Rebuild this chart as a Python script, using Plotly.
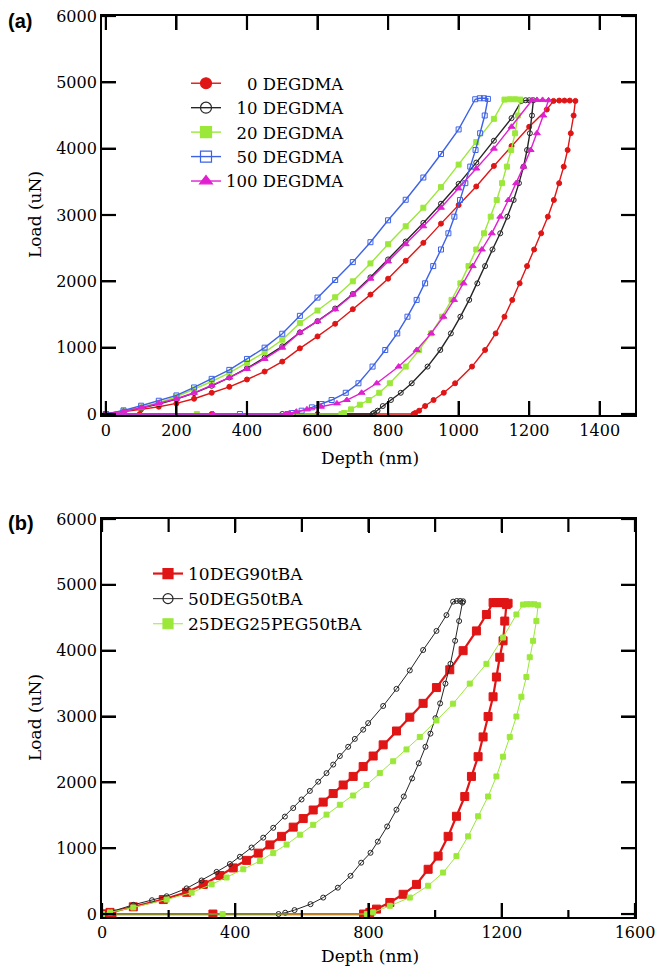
import plotly.graph_objects as go

# ---------------- Panel (a) data: depth (nm) / load (uN) ----------------
DEG0_DEPTH = [0, 50, 100, 150, 200, 250, 300, 350, 400, 450, 500, 550, 600, 650, 700, 750, 800, 850, 900, 950, 1000, 1050, 1100, 1150, 1200, 1250, 1269,
              1285, 1300, 1315, 1331,
              1326, 1318, 1309, 1298, 1285, 1270, 1253, 1234, 1214, 1194, 1173, 1152, 1130, 1105, 1075, 1038, 990, 958, 929, 905, 888, 877, 872,
              600, 300, 96, 0]
DEG0_LOAD = [0, 30, 70, 110, 160, 230, 320, 410, 520, 640, 790, 990, 1170, 1360, 1580, 1800, 2040, 2310, 2580, 2870, 3150, 3430, 3740, 4040, 4330, 4590, 4720,
             4725, 4725, 4725, 4720,
             4500, 4232, 3980, 3729, 3480, 3226, 2975, 2724, 2480, 2230, 1970, 1720, 1467, 1215, 965, 715, 463, 320, 211, 120, 50, 15, 0,
             0, 0, 0, 0]

DEG10_DEPTH = [0, 50, 100, 150, 200, 250, 300, 350, 400, 450, 500, 550, 600, 650, 700, 750, 800, 850, 900, 950, 1000, 1050, 1100, 1150, 1178,
               1190, 1200, 1212,
               1208, 1202, 1194, 1184, 1171, 1156, 1138, 1118, 1096, 1075, 1053, 1030, 1005, 978, 948, 912, 867, 836, 808, 785, 770, 760, 756,
               500, 0]
DEG10_LOAD = [0, 40, 90, 150, 225, 315, 425, 550, 690, 850, 1020, 1230, 1400, 1590, 1810, 2060, 2330, 2600, 2880, 3170, 3470, 3790, 4120, 4460, 4720,
              4730, 4730, 4730,
              4500, 4232, 3980, 3729, 3480, 3226, 2975, 2724, 2480, 2230, 1970, 1720, 1467, 1215, 965, 715, 463, 320, 211, 120, 50, 15, 0,
              0, 0]

DEG20_DEPTH = [0, 50, 100, 150, 200, 250, 300, 350, 400, 450, 500, 550, 600, 650, 700, 750, 800, 850, 900, 950, 1000, 1050, 1100, 1130,
               1145, 1160, 1175,
               1168, 1160, 1149, 1137, 1123, 1108, 1091, 1072, 1050, 1028, 1005, 980, 953, 922, 888, 850, 805, 775, 745, 720, 695, 675, 668,
               258, 0]
DEG20_LOAD = [0, 40, 100, 170, 260, 370, 490, 620, 770, 930, 1120, 1370, 1560, 1760, 2000, 2270, 2560, 2830, 3110, 3420, 3760, 4100, 4450, 4740,
              4745, 4745, 4740,
              4500, 4232, 3980, 3729, 3480, 3226, 2975, 2724, 2480, 2230, 1970, 1720, 1467, 1215, 965, 715, 463, 320, 211, 140, 70, 15, 0,
              0, 0]

DEG50_DEPTH = [0, 50, 100, 150, 200, 250, 300, 350, 400, 450, 500, 550, 600, 650, 700, 750, 800, 850, 900, 950, 1000, 1047,
               1060, 1072, 1083,
               1074, 1061, 1048, 1033, 1019, 1004, 988, 971, 950, 928, 905, 881, 855, 826, 792, 756, 716, 680, 640, 612, 584, 555, 530, 515,
               380, 0]
DEG50_LOAD = [0, 55, 125, 200, 280, 400, 530, 665, 830, 1000, 1210, 1480, 1755, 2020, 2290, 2590, 2920, 3230, 3565, 3920, 4290, 4745,
              4760, 4760, 4750,
              4500, 4232, 3980, 3729, 3480, 3226, 2975, 2724, 2480, 2230, 1970, 1720, 1467, 1215, 965, 715, 463, 320, 211, 150, 100, 50, 15, 0,
              0, 0]

DEG100_DEPTH = [0, 50, 100, 150, 200, 250, 300, 350, 400, 450, 500, 550, 600, 650, 700, 750, 800, 850, 900, 950, 1000, 1050, 1100, 1150, 1208,
                1222, 1238, 1255,
                1240, 1222, 1204, 1184, 1163, 1141, 1118, 1094, 1066, 1040, 1014, 987, 957, 922, 881, 830, 768, 725, 683, 655, 610, 570, 540, 520, 510,
                304, 0]
DEG100_LOAD = [0, 40, 95, 160, 230, 320, 430, 550, 680, 830, 1000, 1230, 1400, 1580, 1800, 2040, 2300, 2560, 2830, 3110, 3400, 3700, 4000, 4330, 4730,
               4735, 4735, 4730,
               4500, 4232, 3980, 3729, 3480, 3226, 2975, 2724, 2480, 2230, 1970, 1720, 1467, 1215, 965, 715, 463, 320, 211, 160, 110, 70, 35, 10, 0,
               0, 0]

# ---------------- Panel (b) data ----------------
S10DEG90_DEPTH = [0, 24, 94, 184, 254, 304, 354, 394, 434, 469, 504, 539, 574, 604, 634, 664, 694, 724, 754, 784, 814, 844, 884, 924, 964, 1004, 1044, 1084, 1124, 1154, 1174,
                  1185, 1197, 1208, 1219,
                  1214, 1209, 1204, 1194, 1184, 1174, 1159, 1144, 1129, 1109, 1089, 1064, 1039, 1009, 979, 944, 904, 864, 824, 804, 785,
                  333, 30, 0]
S10DEG90_LOAD = [0, 25, 110, 220, 330, 450, 585, 700, 815, 925, 1050, 1180, 1320, 1450, 1580, 1700, 1830, 1960, 2090, 2240, 2400, 2570, 2780, 2990, 3200, 3440, 3710, 4000, 4300, 4550, 4730,
                 4730, 4730, 4730, 4720,
                 4700, 4450, 4150, 3900, 3600, 3300, 3000, 2690, 2390, 2090, 1785, 1485, 1180, 880, 680, 450, 300, 175, 75, 25, 0,
                 0, 0, 0]

S50DEG50_DEPTH = [0, 24, 94, 150, 194, 254, 299, 344, 384, 414, 449, 484, 514, 549, 574, 599, 624, 649, 674, 694, 714, 739, 759, 784, 799, 844, 884, 924, 964, 1004, 1034, 1054,
                  1065, 1075, 1084,
                  1082, 1072, 1060, 1046, 1031, 1015, 1001, 986, 971, 951, 931, 906, 884, 856, 828, 806, 778, 746, 708, 664, 626, 578, 550, 530,
                  0]
S50DEG50_LOAD = [0, 30, 140, 210, 270, 390, 510, 640, 760, 870, 1010, 1160, 1310, 1480, 1610, 1740, 1870, 2010, 2140, 2270, 2400, 2540, 2660, 2800, 2900, 3160, 3420, 3700, 4010, 4300, 4540, 4745,
                 4755, 4755, 4750,
                 4730, 4450, 4150, 3800, 3500, 3200, 2975, 2740, 2540, 2290, 2060, 1785, 1585, 1330, 1100, 930, 780, 580, 400, 250, 150, 60, 20, 0,
                 0]

S25DEG25PEG50_DEPTH = [0, 24, 94, 194, 269, 329, 374, 424, 474, 514, 554, 594, 634, 674, 714, 754, 794, 834, 874, 914, 954, 1004, 1054, 1104, 1154, 1204, 1244, 1264,
                       1275, 1286, 1298, 1309,
                       1304, 1294, 1284, 1274, 1259, 1244, 1224, 1204, 1184, 1159, 1129, 1099, 1064, 1024, 979, 924, 864, 814, 795,
                       362, 0]
S25DEG25PEG50_LOAD = [0, 25, 100, 220, 325, 450, 555, 680, 805, 925, 1055, 1205, 1355, 1510, 1660, 1800, 1960, 2140, 2320, 2500, 2690, 2940, 3195, 3500, 3800, 4200, 4550, 4700,
                      4705, 4705, 4705, 4690,
                      4450, 4150, 3900, 3600, 3300, 3000, 2690, 2390, 2090, 1785, 1485, 1180, 880, 630, 430, 250, 125, 25, 0,
                      0, 0]

# ---------------- labels / ticks ----------------
LEGEND_A = ["\u2007\u20070 DEGDMA", "\u200710 DEGDMA", "\u200720 DEGDMA", "\u200750 DEGDMA", "100 DEGDMA"]
LEGEND_B = ["10DEG90tBA", "50DEG50tBA", "25DEG25PEG50tBA"]
X_TICKS_A = [0, 200, 400, 600, 800, 1000, 1200, 1400]
X_TICKS_B = [0, 400, 800, 1200, 1600]
X_MINOR_B = [200, 600, 1000, 1400]
Y_TICKS = [0, 1000, 2000, 3000, 4000, 5000, 6000]

RED = "#e01515"
BLACK = "#262626"
GREEN = "#9be83a"
BLUE = "#3d62e6"
MAGENTA = "#e020d0"

SERIF = "DejaVu Serif"
TXT = "#000000"

fig = go.Figure()

series_a = [
    (DEG0_DEPTH, DEG0_LOAD, LEGEND_A[0], RED, "circle", 5),
    (DEG10_DEPTH, DEG10_LOAD, LEGEND_A[1], BLACK, "circle-open", 5),
    (DEG20_DEPTH, DEG20_LOAD, LEGEND_A[2], GREEN, "square", 5),
    (DEG50_DEPTH, DEG50_LOAD, LEGEND_A[3], BLUE, "square-open", 5),
    (DEG100_DEPTH, DEG100_LOAD, LEGEND_A[4], MAGENTA, "triangle-up", 6),
]
for xs, ys, name, col, sym, sz in series_a:
    fig.add_trace(go.Scatter(x=xs, y=ys, mode="lines+markers", name=name, showlegend=False,
                             line=dict(color=col, width=1.4),
                             marker=dict(symbol=sym, size=sz, color=col, line=dict(color=col, width=1)),
                             xaxis="x", yaxis="y"))
for xs, ys, name, col, sym, sz in series_a:
    fig.add_trace(go.Scatter(x=[None], y=[None], mode="lines+markers", name=name, legend="legend",
                             line=dict(color=col, width=1.4),
                             marker=dict(symbol=sym, size=11, color=col, line=dict(color=col, width=1.2)),
                             xaxis="x", yaxis="y"))

series_b = [
    (S10DEG90_DEPTH, S10DEG90_LOAD, LEGEND_B[0], RED, "square", 8, 2.2),
    (S50DEG50_DEPTH, S50DEG50_LOAD, LEGEND_B[1], BLACK, "circle-open", 5, 1.0),
    (S25DEG25PEG50_DEPTH, S25DEG25PEG50_LOAD, LEGEND_B[2], GREEN, "square", 5, 1.0),
]
for xs, ys, name, col, sym, sz, lw in series_b:
    fig.add_trace(go.Scatter(x=xs, y=ys, mode="lines+markers", name=name, showlegend=False,
                             line=dict(color=col, width=lw),
                             marker=dict(symbol=sym, size=sz, color=col, line=dict(color=col, width=1)),
                             xaxis="x2", yaxis="y2"))
for xs, ys, name, col, sym, sz, lw in series_b:
    fig.add_trace(go.Scatter(x=[None], y=[None], mode="lines+markers", name=name, legend="legend2",
                             line=dict(color=col, width=lw),
                             marker=dict(symbol=sym, size=10, color=col, line=dict(color=col, width=1.2)),
                             xaxis="x2", yaxis="y2"))

W, H = 656, 977
PX_L, PX_R = 102, 635
A_TOP, A_BOT = 16, 415
B_TOP, B_BOT = 519, 917
xdom = [PX_L / W, PX_R / W]
ydom_a = [(H - A_BOT) / H, (H - A_TOP) / H]
ydom_b = [(H - B_BOT) / H, (H - B_TOP) / H]


def axis(**kw):
    d = dict(showline=True, linecolor="black", linewidth=1.8, mirror="allticks",
             ticks="inside", ticklen=14, tickwidth=2, tickcolor="#000000",
             showgrid=False, zeroline=False, tickmode="array", layer="above traces",
             tickfont=dict(family=SERIF, size=16, color=TXT))
    d.update(kw)
    return d


fig.update_layout(
    template="none",
    width=W, height=H,
    margin=dict(l=0, r=0, t=0, b=0),
    paper_bgcolor="white", plot_bgcolor="rgba(0,0,0,0)",
    xaxis=axis(domain=xdom, range=[-11, 1500], tickvals=X_TICKS_A, anchor="y"),
    yaxis=axis(domain=ydom_a, range=[-15, 6000], tickvals=Y_TICKS, anchor="x"),
    xaxis2=axis(domain=xdom, range=[0, 1600], tickvals=X_TICKS_B, anchor="y2"),
    yaxis2=axis(domain=ydom_b, range=[-45, 6000], tickvals=Y_TICKS, anchor="x2"),
    legend=dict(x=186 / W, y=1 - 66 / H, xanchor="left", yanchor="top",
                bgcolor="rgba(0,0,0,0)", borderwidth=0, tracegroupgap=0,
                font=dict(family=SERIF, size=16.5, color=TXT)),
    legend2=dict(x=148 / W, y=1 - 556 / H, xanchor="left", yanchor="top",
                 bgcolor="rgba(0,0,0,0)", borderwidth=0, tracegroupgap=0,
                 font=dict(family=SERIF, size=17, color=TXT)),
    showlegend=True,
)

# tick marks (inside, on all four sides) placed on the axes' own scales, paper refs for the short side
shapes = []
tick_line = dict(color="#000000", width=2.2)


def py(p):
    return 1 - p / H


def px(p):
    return p / W


def xticks(xref, top, bot, vals, len_bottom, len_top):
    for v in vals:
        shapes.append(dict(type="line", xref=xref, yref="paper", x0=v, x1=v,
                           y0=py(bot), y1=py(bot - len_bottom), line=tick_line, layer="above"))
        shapes.append(dict(type="line", xref=xref, yref="paper", x0=v, x1=v,
                           y0=py(top), y1=py(top + len_top), line=tick_line, layer="above"))


def yticks(yref, vals, length):
    for v in vals:
        shapes.append(dict(type="line", xref="paper", yref=yref, y0=v, y1=v,
                           x0=px(PX_L), x1=px(PX_L + length), line=tick_line, layer="above"))
        shapes.append(dict(type="line", xref="paper", yref=yref, y0=v, y1=v,
                           x0=px(PX_R), x1=px(PX_R - length), line=tick_line, layer="above"))


xticks("x", A_TOP, A_BOT, X_TICKS_A, 14, 14)
yticks("y", Y_TICKS, 14)
xticks("x2", B_TOP, B_BOT, X_TICKS_B, 14, 13)
xticks("x2", B_TOP, B_BOT, X_MINOR_B, 7, 13)
yticks("y2", Y_TICKS, 14)
fig.update_layout(shapes=shapes)

annots = [
    dict(text="<b>(a)</b>", x=6 / W, y=1 - 21 / H, xanchor="left", yanchor="middle",
         font=dict(family="Liberation Sans", size=20, color="black")),
    dict(text="<b>(b)</b>", x=6 / W, y=1 - 523 / H, xanchor="left", yanchor="middle",
         font=dict(family="Liberation Sans", size=20, color="black")),
    dict(text="Depth (nm)", x=370 / W, y=1 - 458 / H, xanchor="center", yanchor="middle",
         font=dict(family=SERIF, size=17, color=TXT)),
    dict(text="Depth (nm)", x=370 / W, y=1 - 956 / H, xanchor="center", yanchor="middle",
         font=dict(family=SERIF, size=17, color=TXT)),
    dict(text="Load (uN)", x=35 / W, y=1 - 215 / H, xanchor="center", yanchor="middle", textangle=-90,
         font=dict(family=SERIF, size=17, color=TXT)),
    dict(text="Load (uN)", x=35 / W, y=1 - 718 / H, xanchor="center", yanchor="middle", textangle=-90,
         font=dict(family=SERIF, size=17, color=TXT)),
]
for a in annots:
    a.update(xref="paper", yref="paper", showarrow=False)
fig.update_layout(annotations=annots)

fig.write_html("out.html")
